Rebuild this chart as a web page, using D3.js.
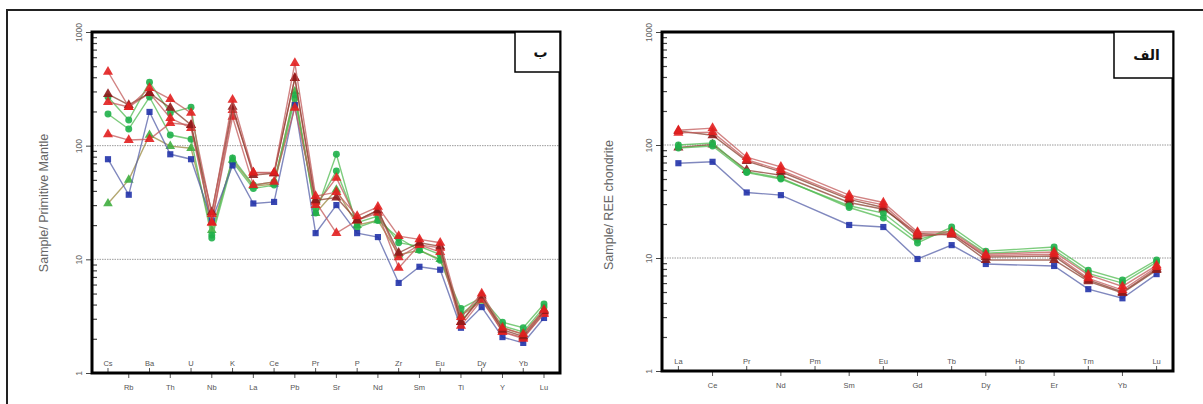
<!DOCTYPE html>
<html>
<head>
<meta charset="utf-8">
<script src="https://cdn.jsdelivr.net/npm/d3@7"></script>
<style>
  body { margin: 0; background: #fff; }
  svg { display: block; font-family: "Liberation Sans", Arial, sans-serif; }
</style>
</head>
<body>
<svg id="chart" width="1203" height="404"></svg>
<script>
// spider diagram, primitive mantle normalised (panel b)
var pmElements = ["Cs","Rb","Ba","Th","U","Nb","K","La","Ce","Pb","Pr","Sr","P","Nd","Zr","Sm","Eu","Ti","Dy","Y","Yb","Lu"];
var pmBlue   = [76, 37, 198, 84, 76, 22, 67, 31, 32, 228, 17, 30, 17, 15.7, 6.2, 8.6, 8.1, 2.5, 3.8, 2.07, 1.84, 3.05];
var pmRed1   = [447, 219, 321, 257, 194, 25, 253, 58, 58, 532, 36, 39, 24, 29, 16, 15, 14, 3.1, 5.0, 2.5, 2.2, 3.6];
var pmDark1  = [284, 228, 290, 215, 152, 26, 220, 55, 57, 393, 33, 35, 22, 27, 11.4, 14, 13, 2.8, 4.8, 2.4, 2.1, 3.5];
var pmGreen1 = [268, 168, 362, 194, 218, 16.4, 78, 45, 48, 279, 25.5, 84, 19, 22, 15.4, 12, 9.8, 3.7, 4.6, 2.8, 2.5, 4.05];
var pmRed2   = [242, 219, 290, 175, 143, 21, 206, 58, 57, 393, 30, 52, 22, 27, 10.4, 13.4, 12.6, 2.8, 4.6, 2.3, 2.0, 3.4];
var pmGreen2 = [190, 140, 268, 124, 114, 15.4, 72, 42, 45, 260, 28, 60, 21, 24, 14, 13, 11, 3.3, 4.5, 2.6, 2.3, 3.8];
var pmRed3   = [126, 112, 114, 158, 152, 21, 179, 45, 48, 215, 32, 17, 22, 25.6, 8.4, 13.4, 11.6, 2.6, 4.4, 2.3, 2.05, 3.3];
var pmOlive  = [31, 50, 124, 99, 95, 18, 75, 44, 46, 300, 25.5, 41, 20, 22, 11, 12, 10, 3.2, 4.3, 2.5, 2.2, 3.6];

// REE pattern, chondrite normalised (panel alef); Pm and Ho not analysed
var reeElements = ["La","Ce","Pr","Nd","Pm","Sm","Eu","Gd","Tb","Dy","Ho","Er","Tm","Yb","Lu"];
var reeBlue   = [69, 71, 38, 36, null, 19.6, 18.8, 9.8, 13, 8.85, null, 8.5, 5.3, 4.4, 7.2];
var reeRed1   = [135, 141, 78, 64, null, 36, 31, 17, 17, 10.8, null, 11.3, 7.1, 5.6, 8.6];
var reeRed2   = [128, 130, 74, 60, null, 34, 29.5, 16, 16.3, 10.5, null, 10.8, 6.6, 5.2, 8.3];
var reeDark   = [133, 122, 72, 58, null, 33, 28, 15.5, 16.5, 10.2, null, 10.4, 6.4, 5.0, 8.0];
var reeGreen1 = [100, 104, 58, 51, null, 28, 22.6, 13.6, 18.8, 11.5, null, 12.5, 7.8, 6.4, 9.6];
var reeGreen2 = [94, 98, 57, 50, null, 29, 25, 14.5, 17.5, 11, null, 11.8, 7.3, 6.0, 9.2];
var reeOlive  = [95, 101, 60, 54, null, 31, 27, 16.5, 16, 9.6, null, 9.6, 6.2, 4.9, 7.8];

var yTicks = [1, 10, 100, 1000];
var yGrid = [10, 100];

var svg = d3.select("#chart");

// outer frame (top and left only)
svg.append("path")
    .attr("d", "M7,404V10H1203")
    .attr("fill", "none")
    .attr("stroke", "#222")
    .attr("stroke-width", 2);

var styles = {
  blue:  { fill: "#2233aa", line: "#5560a8", shape: d3.symbolSquare, size: 38 },
  red:   { fill: "#e21f1f", line: "#c25a5a", shape: d3.symbolTriangle, size: 44 },
  dark:  { fill: "#8e1a1a", line: "#8a4030", shape: d3.symbolTriangle, size: 44 },
  green: { fill: "#1fb04a", line: "#52bb52", shape: d3.symbolCircle, size: 38 },
  olive: { fill: "#3fae3f", line: "#9a8a40", shape: d3.symbolTriangle, size: 40 }
};

function drawPanel(cfg) {
  var g = svg.append("g");

  var x = d3.scalePoint()
      .domain(cfg.elements)
      .range([cfg.x0, cfg.x1])
      .padding(cfg.pad);

  var y = d3.scaleLog()
      .domain([1, 1000])
      .range([cfg.y1, cfg.y0]);

  // dotted grid at 10 and 100
  g.selectAll(".grid")
    .data(yGrid)
    .enter().append("line")
      .attr("x1", cfg.x0).attr("x2", cfg.x1)
      .attr("y1", function(d) { return y(d); })
      .attr("y2", function(d) { return y(d); })
      .attr("stroke", "#9a9a9a")
      .attr("stroke-width", 1)
      .attr("stroke-dasharray", "1.5,1");

  // series
  cfg.series.forEach(function(s) {
    var st = styles[s.style];
    var pts = cfg.elements.map(function(el, i) { return { el: el, v: s.values[i] }; })
        .filter(function(d) { return d.v != null; });

    g.append("path")
        .datum(pts)
        .attr("fill", "none")
        .attr("stroke", st.line)
        .attr("stroke-opacity", 0.75)
        .attr("stroke-width", 1.4)
        .attr("d", d3.line()
            .x(function(d) { return x(d.el); })
            .y(function(d) { return y(d.v); }));

    g.selectAll(null)
      .data(pts)
      .enter().append("path")
        .attr("transform", function(d) { return "translate(" + x(d.el) + "," + y(d.v) + ")"; })
        .attr("d", d3.symbol().type(st.shape).size(st.size))
        .attr("fill", st.fill)
        .attr("fill-opacity", 0.9);
  });

  // y axis, major ticks outward with rotated labels
  var yAxis = g.append("g")
      .attr("transform", "translate(" + cfg.x0 + ",0)")
      .call(d3.axisLeft(y).tickValues(yTicks).tickSize(6).tickFormat(d3.format("d")));
  yAxis.select(".domain").remove();
  yAxis.selectAll("line").attr("stroke", "#444");
  yAxis.selectAll("text")
      .attr("fill", "#666")
      .attr("font-size", 8.5)
      .attr("text-anchor", "middle")
      .attr("x", 0).attr("dy", 0)
      .attr("transform", "translate(-13,0) rotate(-90)")
      .attr("y", 3);

  // minor ticks, inward
  var minor = [];
  [1, 10, 100].forEach(function(dec) {
    for (var k = 2; k <= 9; k++) minor.push(dec * k);
  });
  var yMinor = g.append("g")
      .attr("transform", "translate(" + cfg.x0 + ",0)")
      .call(d3.axisRight(y).tickValues(minor).tickSize(5).tickFormat(""));
  yMinor.select(".domain").remove();
  yMinor.selectAll("line").attr("stroke", "#444").attr("stroke-width", 1.2);

  // x ticks: alternating inside / outside labels
  cfg.elements.forEach(function(el, i) {
    var inside = i % 2 === 0;
    g.append("line")
        .attr("x1", x(el)).attr("x2", x(el))
        .attr("y1", cfg.y1)
        .attr("y2", inside ? cfg.y1 - 5 : cfg.y1 + 5)
        .attr("stroke", "#555");
    g.append("text")
        .attr("x", x(el))
        .attr("y", inside ? cfg.y1 - 7 : cfg.y1 + 17)
        .attr("text-anchor", "middle")
        .attr("font-size", 7.5)
        .attr("fill", "#555")
        .text(el);
  });

  // plot frame
  g.append("rect")
      .attr("x", cfg.x0).attr("y", cfg.y0)
      .attr("width", cfg.x1 - cfg.x0)
      .attr("height", cfg.y1 - cfg.y0)
      .attr("fill", "none")
      .attr("stroke", "#000")
      .attr("stroke-width", 3);

  // y title
  g.append("text")
      .attr("transform", "translate(" + cfg.titleX + "," + cfg.titleY + ") rotate(-90)")
      .attr("text-anchor", "middle")
      .attr("font-size", 12.5)
      .attr("fill", "#666")
      .text(cfg.title);

  // panel tag box
  g.append("rect")
      .attr("x", cfg.x1 - cfg.tagW).attr("y", cfg.y0)
      .attr("width", cfg.tagW).attr("height", cfg.tagH)
      .attr("fill", "#fff")
      .attr("stroke", "#000")
      .attr("stroke-width", 1.5);
  g.append("text")
      .attr("x", cfg.x1 - cfg.tagW / 2 + 3)
      .attr("y", cfg.y0 + cfg.tagH / 2 + 5)
      .attr("text-anchor", "middle")
      .attr("font-size", 14)
      .attr("font-weight", "bold")
      .attr("font-family", "'DejaVu Sans', 'Noto Sans', sans-serif")
      .attr("fill", "#111")
      .text(cfg.tag);
}

drawPanel({
  elements: pmElements,
  x0: 92, x1: 560, y0: 32, y1: 373, pad: 0.77,
  title: "Sample/ Primitive Mantle", titleX: 48, titleY: 203,
  tag: "ب", tagW: 45, tagH: 40,
  series: [
    { values: pmOlive, style: "olive" },
    { values: pmGreen2, style: "green" },
    { values: pmGreen1, style: "green" },
    { values: pmBlue, style: "blue" },
    { values: pmRed3, style: "red" },
    { values: pmRed2, style: "red" },
    { values: pmDark1, style: "dark" },
    { values: pmRed1, style: "red" }
  ]
});

drawPanel({
  elements: reeElements,
  x0: 662, x1: 1173, y0: 32, y1: 371, pad: 0.48,
  title: "Sample/ REE chondrite", titleX: 613, titleY: 205,
  tag: "الف", tagW: 59, tagH: 46,
  series: [
    { values: reeBlue, style: "blue" },
    { values: reeOlive, style: "dark" },
    { values: reeGreen2, style: "green" },
    { values: reeGreen1, style: "green" },
    { values: reeDark, style: "dark" },
    { values: reeRed2, style: "red" },
    { values: reeRed1, style: "red" }
  ]
});
</script>
</body>
</html>
